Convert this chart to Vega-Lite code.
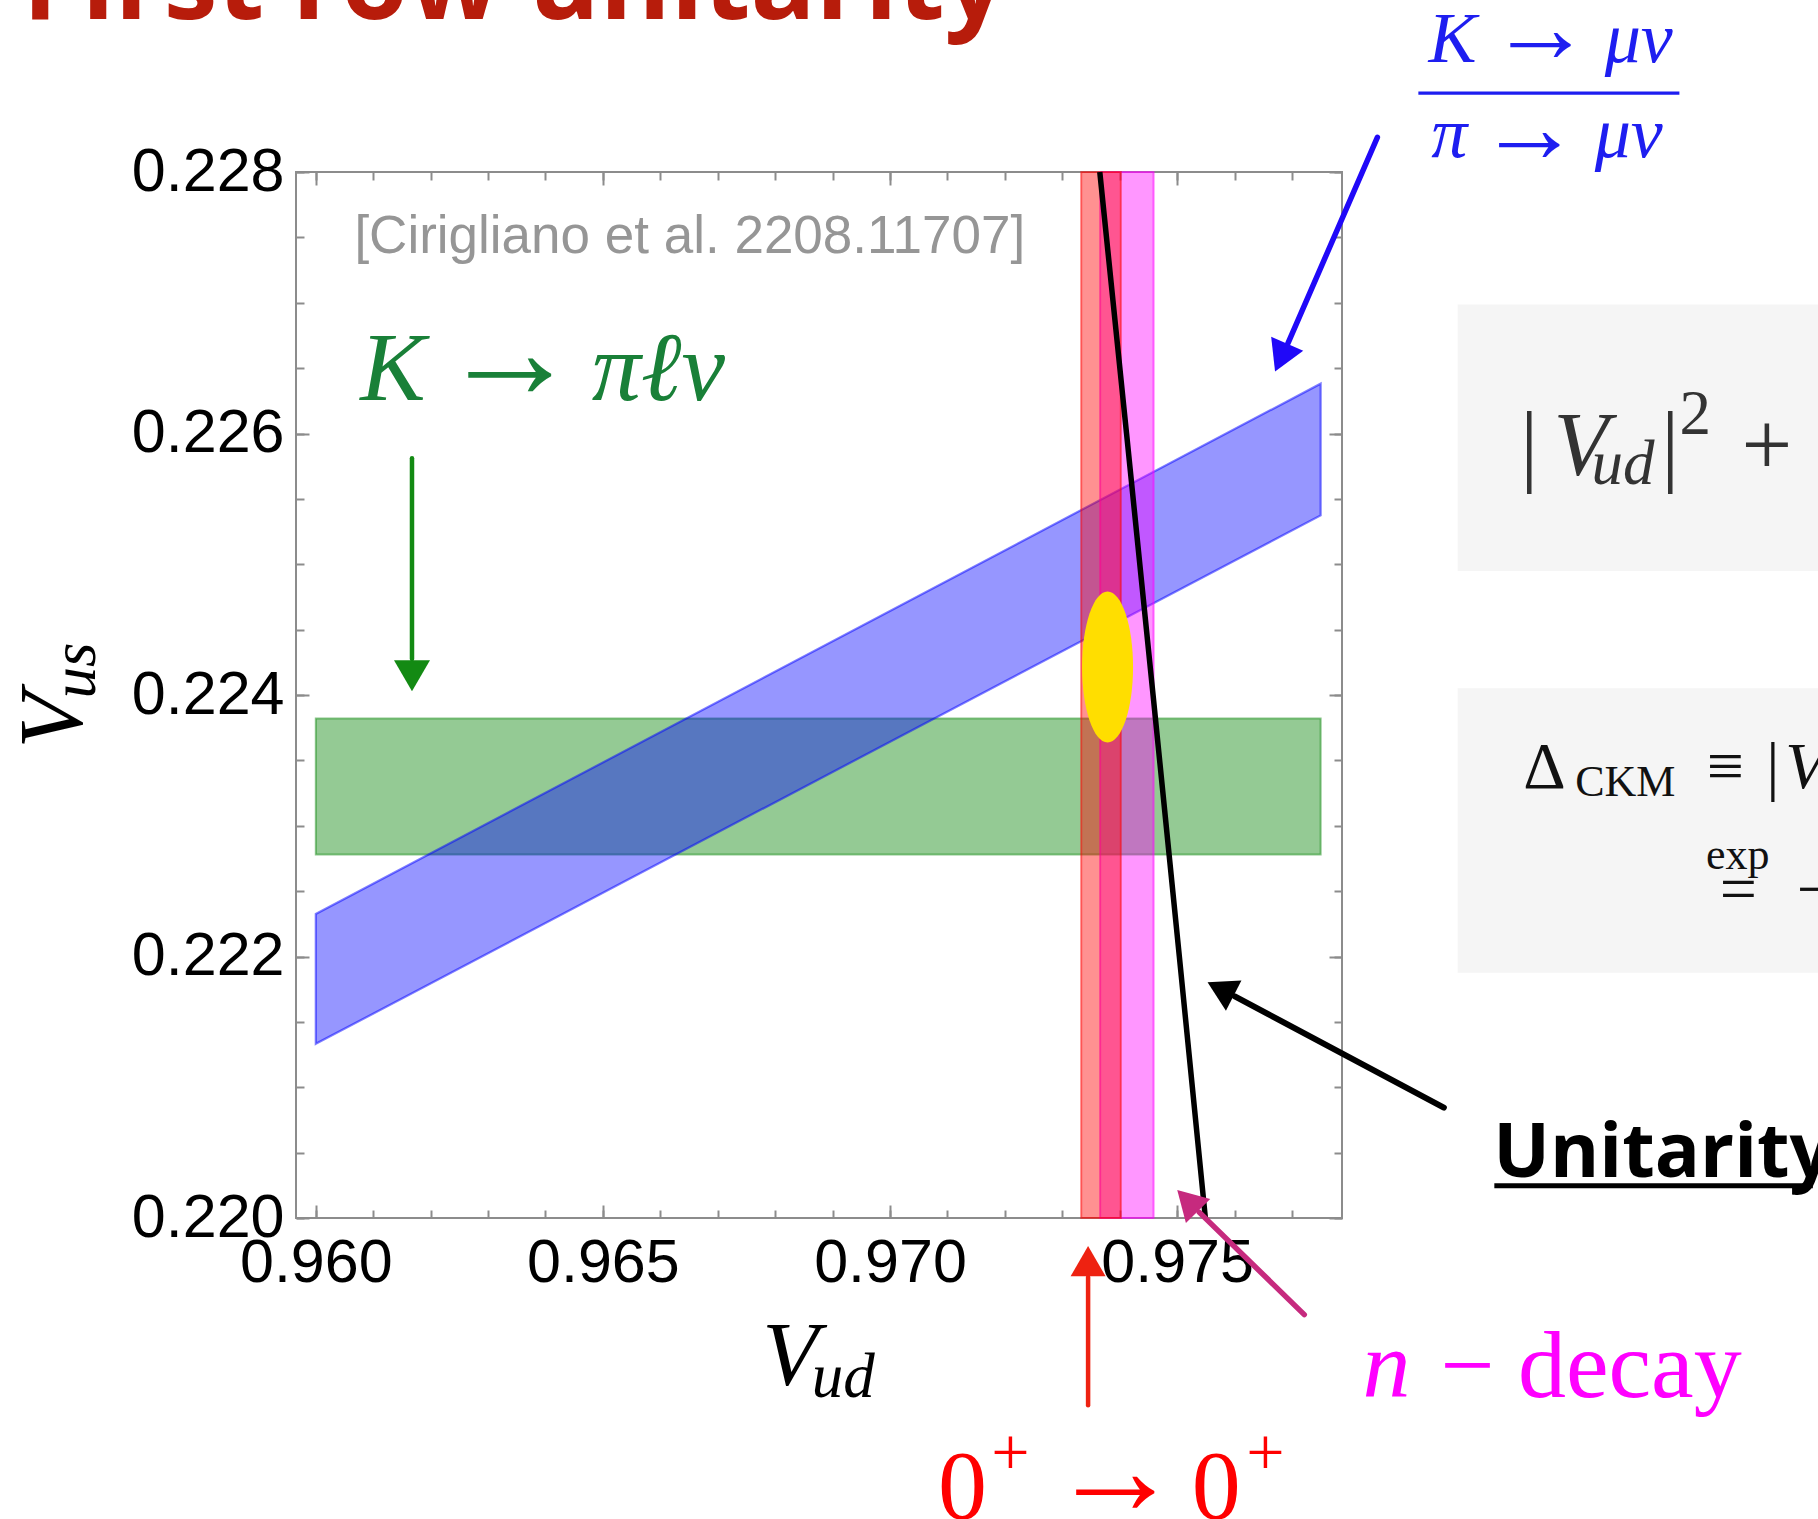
{
  "$schema": "https://vega.github.io/schema/vega-lite/v6.json",
  "width": 1046,
  "height": 1046,
  "autosize": "none",
  "padding": {"left": 296, "top": 172, "right": 476, "bottom": 301},
  "background": "#ffffff",
  "config": {
    "view": {"stroke": "#8c8c8c", "strokeWidth": 2},
    "axis": {"grid": false, "domain": false, "tickColor": "#8c8c8c", "tickWidth": 2, "labelFont": "Liberation Sans", "labelFontSize": 61, "labelColor": "#000000"}
  },
  "resolve": {"axis": {"x": "independent", "y": "independent"}},
  "datasets": {
    "labels": [
      {"group": "title", "text": "First row unitarity", "Vud": 0.95489, "Vus": 0.229172},
      {"group": "cite", "text": "[Cirigliano et al. 2208.11707]", "Vud": 0.960672, "Vus": 0.227377},
      {"group": "kpl_it", "text": "K", "Vud": 0.961343, "Vus": 0.226253},
      {"group": "kpl_it", "text": "πℓν", "Vud": 0.965966, "Vus": 0.226253},
      {"group": "kpl_arrow", "text": "→", "Vud": 0.963372, "Vus": 0.226268},
      {"group": "kmu_it", "text": "K", "Vud": 0.979798, "Vus": 0.228841},
      {"group": "kmu_it", "text": "μν", "Vud": 0.983039, "Vus": 0.228841},
      {"group": "kmu_it", "text": "π", "Vud": 0.979742, "Vus": 0.228114},
      {"group": "kmu_it", "text": "μν", "Vud": 0.982865, "Vus": 0.228114},
      {"group": "kmu_arrow", "text": "→", "Vud": 0.981327, "Vus": 0.228842},
      {"group": "kmu_arrow", "text": "→", "Vud": 0.981135, "Vus": 0.228075},
      {"group": "ndec_it", "text": "n", "Vud": 0.978645, "Vus": 0.21863},
      {"group": "ndec_up", "text": "−", "Vud": 0.980055, "Vus": 0.21863},
      {"group": "ndec_up", "text": "decay", "Vud": 0.982884, "Vus": 0.21863},
      {"group": "sa_up", "text": "0", "Vud": 0.971261, "Vus": 0.217702},
      {"group": "sa_up", "text": "0", "Vud": 0.975684, "Vus": 0.217702},
      {"group": "sa_arrow", "text": "→", "Vud": 0.973925, "Vus": 0.217735},
      {"group": "sa_sup", "text": "+", "Vud": 0.972097, "Vus": 0.218031},
      {"group": "sa_sup", "text": "+", "Vud": 0.976538, "Vus": 0.218031},
      {"group": "xtitle", "text": "V", "Vud": 0.968265, "Vus": 0.21872},
      {"group": "xtitle_sub", "text": "ud", "Vud": 0.969188, "Vus": 0.218628},
      {"group": "ytitle", "text": "V", "Vud": 0.95593, "Vus": 0.223806},
      {"group": "ytitle_sub", "text": "us", "Vud": 0.956162, "Vus": 0.224188},
      {"group": "unitarity", "text": "Unitarity", "Vud": 0.980508, "Vus": 0.220313},
      {"group": "f1_up", "text": "|", "Vud": 0.981135, "Vus": 0.22568},
      {"group": "f1_up", "text": "|", "Vud": 0.983591, "Vus": 0.22568},
      {"group": "f1_up", "text": "+", "Vud": 0.985271, "Vus": 0.22568},
      {"group": "f1_it", "text": "V", "Vud": 0.982032, "Vus": 0.22568},
      {"group": "f1_sub", "text": "ud", "Vud": 0.982764, "Vus": 0.225611},
      {"group": "f1_sup", "text": "2", "Vud": 0.984026, "Vus": 0.225993},
      {"group": "f2_up", "text": "Δ", "Vud": 0.981396, "Vus": 0.223286},
      {"group": "f2_up", "text": "≡", "Vud": 0.984549, "Vus": 0.223286},
      {"group": "f2_up", "text": "|", "Vud": 0.985376, "Vus": 0.223286},
      {"group": "f2_up", "text": "=", "Vud": 0.984775, "Vus": 0.222345},
      {"group": "f2_up", "text": "−", "Vud": 0.986116, "Vus": 0.222345},
      {"group": "f2_it", "text": "V", "Vud": 0.985942, "Vus": 0.223286},
      {"group": "f2_sub", "text": "CKM", "Vud": 0.982807, "Vus": 0.223228},
      {"group": "f2_sub", "text": "exp", "Vud": 0.984766, "Vus": 0.222666}
    ]
  },
  "layer": [
    {
      "data": {"values": [
        {"Vud_lo": 0.979886, "Vud_hi": 0.986377, "Vus_lo": 0.224948, "Vus_hi": 0.226987},
        {"Vud_lo": 0.979886, "Vud_hi": 0.986377, "Vus_lo": 0.221875, "Vus_hi": 0.224052}
      ]},
      "mark": {"type": "rect", "fill": "#f5f5f5"},
      "encoding": {
        "x": {"field": "Vud_lo", "type": "quantitative", "scale": {"domain": [0.959655, 0.977872], "nice": false, "zero": false},
              "axis": {"orient": "bottom", "values": [0.96, 0.965, 0.97, 0.975], "format": ".3f", "ticks": false, "labelPadding": 15, "labelFlush": false, "title": null}},
        "x2": {"field": "Vud_hi"},
        "y": {"field": "Vus_lo", "type": "quantitative", "scale": {"domain": [0.22, 0.228], "nice": false, "zero": false},
              "axis": {"orient": "left", "values": [0.22, 0.222, 0.224, 0.226, 0.228], "format": ".3f", "ticks": false, "labelPadding": 12, "labelFlush": false, "title": null}},
        "y2": {"field": "Vus_hi"}
      }
    },
    {
      "data": {"values": [{"Vud_lo": 0.96, "Vud_hi": 0.9775, "Vus_lo": 0.22278, "Vus_hi": 0.22382}]},
      "mark": {"type": "rect", "fill": "#008000", "fillOpacity": 0.42, "stroke": "#008000", "strokeOpacity": 0.45, "strokeWidth": 2},
      "encoding": {
        "x": {"field": "Vud_lo", "type": "quantitative", "scale": {"domain": [0.959655, 0.977872], "nice": false, "zero": false},
              "axis": {"orient": "bottom", "values": [0.96, 0.965, 0.97, 0.975], "labels": false, "tickSize": -13, "title": null}},
        "x2": {"field": "Vud_hi"},
        "y": {"field": "Vus_lo", "type": "quantitative", "scale": {"domain": [0.22, 0.228], "nice": false, "zero": false},
              "axis": {"orient": "left", "values": [0.22, 0.222, 0.224, 0.226, 0.228], "labels": false, "tickSize": -13, "title": null}},
        "y2": {"field": "Vus_hi"}
      }
    },
    {
      "data": {"values": [
        {"Vud": 0.96, "Vus_lo": 0.221332, "Vus_hi": 0.222325},
        {"Vud": 0.9775, "Vus_lo": 0.225374, "Vus_hi": 0.226381}
      ]},
      "mark": {"type": "area", "fill": "#0000ff", "fillOpacity": 0.41, "stroke": "#0000ff", "strokeOpacity": 0.5, "strokeWidth": 2.2},
      "encoding": {
        "x": {"field": "Vud", "type": "quantitative", "scale": {"domain": [0.959655, 0.977872], "nice": false, "zero": false},
              "axis": {"orient": "bottom", "values": [0.96, 0.961, 0.962, 0.963, 0.964, 0.965, 0.966, 0.967, 0.968, 0.969, 0.97, 0.971, 0.972, 0.973, 0.974, 0.975, 0.976, 0.977], "labels": false, "tickSize": -8, "title": null}},
        "y": {"field": "Vus_lo", "type": "quantitative", "scale": {"domain": [0.22, 0.228], "nice": false, "zero": false},
              "axis": {"orient": "left", "values": [0.22, 0.2205, 0.221, 0.2215, 0.222, 0.2225, 0.223, 0.2235, 0.224, 0.2245, 0.225, 0.2255, 0.226, 0.2265, 0.227, 0.2275, 0.228], "labels": false, "tickSize": -8, "title": null}},
        "y2": {"field": "Vus_hi"}
      }
    },
    {
      "data": {"values": [{"Vud_lo": 0.97366, "Vud_hi": 0.97459, "Vus_lo": 0.22, "Vus_hi": 0.228}]},
      "mark": {"type": "rect", "fill": "#ff00ff", "fillOpacity": 0.41, "stroke": "#ff00ff", "strokeOpacity": 0.55, "strokeWidth": 2},
      "encoding": {
        "x": {"field": "Vud_lo", "type": "quantitative", "scale": {"domain": [0.959655, 0.977872], "nice": false, "zero": false},
              "axis": {"orient": "top", "values": [0.96, 0.965, 0.97, 0.975], "labels": false, "tickSize": -13, "title": null}},
        "x2": {"field": "Vud_hi"},
        "y": {"field": "Vus_lo", "type": "quantitative", "scale": {"domain": [0.22, 0.228], "nice": false, "zero": false},
              "axis": {"orient": "right", "values": [0.22, 0.222, 0.224, 0.226, 0.228], "labels": false, "tickSize": -13, "title": null}},
        "y2": {"field": "Vus_hi"}
      }
    },
    {
      "data": {"values": [{"Vud_lo": 0.97333, "Vud_hi": 0.97402, "Vus_lo": 0.22, "Vus_hi": 0.228}]},
      "mark": {"type": "rect", "fill": "#ff0000", "fillOpacity": 0.43, "stroke": "#ff0000", "strokeOpacity": 0.5, "strokeWidth": 2},
      "encoding": {
        "x": {"field": "Vud_lo", "type": "quantitative", "scale": {"domain": [0.959655, 0.977872], "nice": false, "zero": false},
              "axis": {"orient": "top", "values": [0.96, 0.961, 0.962, 0.963, 0.964, 0.965, 0.966, 0.967, 0.968, 0.969, 0.97, 0.971, 0.972, 0.973, 0.974, 0.975, 0.976, 0.977], "labels": false, "tickSize": -8, "title": null}},
        "x2": {"field": "Vud_hi"},
        "y": {"field": "Vus_lo", "type": "quantitative", "scale": {"domain": [0.22, 0.228], "nice": false, "zero": false},
              "axis": {"orient": "right", "values": [0.22, 0.2205, 0.221, 0.2215, 0.222, 0.2225, 0.223, 0.2235, 0.224, 0.2245, 0.225, 0.2255, 0.226, 0.2265, 0.227, 0.2275, 0.228], "labels": false, "tickSize": -8, "title": null}},
        "y2": {"field": "Vus_hi"}
      }
    },
    {
      "data": {"values": [{"Vud": 0.973789, "Vus": 0.224215}]},
      "mark": {"type": "point", "shape": "M0,-1A0.3377,1,0,1,1,0,1A0.3377,1,0,1,1,0,-1Z", "size": 22801, "filled": true, "fill": "#ffde00", "opacity": 1, "strokeWidth": 0},
      "encoding": {
        "x": {"field": "Vud", "type": "quantitative", "scale": {"domain": [0.959655, 0.977872], "nice": false, "zero": false}, "axis": null},
        "y": {"field": "Vus", "type": "quantitative", "scale": {"domain": [0.22, 0.228], "nice": false, "zero": false}, "axis": null}
      }
    },
    {
      "data": {"values": [
        {"Vud": 0.9736537, "Vus": 0.228},
        {"Vud": 0.9741198, "Vus": 0.226},
        {"Vud": 0.9745816, "Vus": 0.224},
        {"Vud": 0.9750392, "Vus": 0.222},
        {"Vud": 0.9754924, "Vus": 0.22}
      ]},
      "mark": {"type": "line", "color": "#000000", "strokeWidth": 5.5},
      "encoding": {
        "x": {"field": "Vud", "type": "quantitative", "scale": {"domain": [0.959655, 0.977872], "nice": false, "zero": false}, "axis": null},
        "y": {"field": "Vus", "type": "quantitative", "scale": {"domain": [0.22, 0.228], "nice": false, "zero": false}, "axis": null}
      }
    },
    {
      "data": {"values": [{"Vud": 0.961675, "Vus": 0.22581, "Vud_end": 0.961675, "Vus_end": 0.224275}]},
      "mark": {"type": "rule", "color": "#138a13", "strokeWidth": 4.5, "strokeCap": "round"},
      "encoding": {
        "x": {"field": "Vud", "type": "quantitative", "scale": {"domain": [0.959655, 0.977872], "nice": false, "zero": false}, "axis": null},
        "y": {"field": "Vus", "type": "quantitative", "scale": {"domain": [0.22, 0.228], "nice": false, "zero": false}, "axis": null},
        "x2": {"field": "Vud_end"},
        "y2": {"field": "Vus_end"}
      }
    },
    {
      "data": {"values": [{"Vud": 0.961675, "Vus": 0.224147}]},
      "mark": {"type": "point", "shape": "triangle-down", "size": 1296, "filled": true, "color": "#138a13", "opacity": 1},
      "encoding": {
        "x": {"field": "Vud", "type": "quantitative", "scale": {"domain": [0.959655, 0.977872], "nice": false, "zero": false}, "axis": null},
        "y": {"field": "Vus", "type": "quantitative", "scale": {"domain": [0.22, 0.228], "nice": false, "zero": false}, "axis": null}
      }
    },
    {
      "data": {"values": [{"Vud": 0.978488, "Vus": 0.228265, "Vud_end": 0.97693, "Vus_end": 0.226689}]},
      "mark": {"type": "rule", "color": "#2008f8", "strokeWidth": 5.5, "strokeCap": "round"},
      "encoding": {
        "x": {"field": "Vud", "type": "quantitative", "scale": {"domain": [0.959655, 0.977872], "nice": false, "zero": false}, "axis": null},
        "y": {"field": "Vus", "type": "quantitative", "scale": {"domain": [0.22, 0.228], "nice": false, "zero": false}, "axis": null},
        "x2": {"field": "Vud_end"},
        "y2": {"field": "Vus_end"}
      }
    },
    {
      "data": {"values": [{"Vud": 0.976812, "Vus": 0.22658}]},
      "mark": {"type": "point", "shape": "triangle-down", "angle": 23.6, "size": 1225, "filled": true, "color": "#2008f8", "opacity": 1},
      "encoding": {
        "x": {"field": "Vud", "type": "quantitative", "scale": {"domain": [0.959655, 0.977872], "nice": false, "zero": false}, "axis": null},
        "y": {"field": "Vus", "type": "quantitative", "scale": {"domain": [0.22, 0.228], "nice": false, "zero": false}, "axis": null}
      }
    },
    {
      "data": {"values": [{"Vud": 0.979646, "Vus": 0.220844, "Vud_end": 0.976006, "Vus_end": 0.221695}]},
      "mark": {"type": "rule", "color": "#000000", "strokeWidth": 6, "strokeCap": "round"},
      "encoding": {
        "x": {"field": "Vud", "type": "quantitative", "scale": {"domain": [0.959655, 0.977872], "nice": false, "zero": false}, "axis": null},
        "y": {"field": "Vus", "type": "quantitative", "scale": {"domain": [0.22, 0.228], "nice": false, "zero": false}, "axis": null},
        "x2": {"field": "Vud_end"},
        "y2": {"field": "Vus_end"}
      }
    },
    {
      "data": {"values": [{"Vud": 0.975758, "Vus": 0.221752}]},
      "mark": {"type": "point", "shape": "triangle-down", "angle": 117.2, "size": 1150, "filled": true, "color": "#000000", "opacity": 1},
      "encoding": {
        "x": {"field": "Vud", "type": "quantitative", "scale": {"domain": [0.959655, 0.977872], "nice": false, "zero": false}, "axis": null},
        "y": {"field": "Vus", "type": "quantitative", "scale": {"domain": [0.22, 0.228], "nice": false, "zero": false}, "axis": null}
      }
    },
    {
      "data": {"values": [{"Vud": 0.977215, "Vus": 0.219261, "Vud_end": 0.975388, "Vus_end": 0.220043}]},
      "mark": {"type": "rule", "color": "#c62a7e", "strokeWidth": 5.5, "strokeCap": "round"},
      "encoding": {
        "x": {"field": "Vud", "type": "quantitative", "scale": {"domain": [0.959655, 0.977872], "nice": false, "zero": false}, "axis": null},
        "y": {"field": "Vus", "type": "quantitative", "scale": {"domain": [0.22, 0.228], "nice": false, "zero": false}, "axis": null},
        "x2": {"field": "Vud_end"},
        "y2": {"field": "Vus_end"}
      }
    },
    {
      "data": {"values": [{"Vud": 0.975184, "Vus": 0.220134}]},
      "mark": {"type": "point", "shape": "triangle-down", "angle": 135.3, "size": 1170, "filled": true, "color": "#c62a7e", "opacity": 1},
      "encoding": {
        "x": {"field": "Vud", "type": "quantitative", "scale": {"domain": [0.959655, 0.977872], "nice": false, "zero": false}, "axis": null},
        "y": {"field": "Vus", "type": "quantitative", "scale": {"domain": [0.22, 0.228], "nice": false, "zero": false}, "axis": null}
      }
    },
    {
      "data": {"values": [{"Vud": 0.97345, "Vus": 0.218567, "Vud_end": 0.97345, "Vus_end": 0.219548}]},
      "mark": {"type": "rule", "color": "#ee2211", "strokeWidth": 4.5, "strokeCap": "round"},
      "encoding": {
        "x": {"field": "Vud", "type": "quantitative", "scale": {"domain": [0.959655, 0.977872], "nice": false, "zero": false}, "axis": null},
        "y": {"field": "Vus", "type": "quantitative", "scale": {"domain": [0.22, 0.228], "nice": false, "zero": false}, "axis": null},
        "x2": {"field": "Vud_end"},
        "y2": {"field": "Vus_end"}
      }
    },
    {
      "data": {"values": [{"Vud": 0.97345, "Vus": 0.21967}]},
      "mark": {"type": "point", "shape": "triangle-up", "size": 1225, "filled": true, "color": "#ee2211", "opacity": 1},
      "encoding": {
        "x": {"field": "Vud", "type": "quantitative", "scale": {"domain": [0.959655, 0.977872], "nice": false, "zero": false}, "axis": null},
        "y": {"field": "Vus", "type": "quantitative", "scale": {"domain": [0.22, 0.228], "nice": false, "zero": false}, "axis": null}
      }
    },
    {
      "data": {"values": [{"Vud": 0.979202, "Vus": 0.228603, "Vud_end": 0.983748, "Vus_end": 0.228603}]},
      "mark": {"type": "rule", "color": "#1e1ef0", "strokeWidth": 3.3},
      "encoding": {
        "x": {"field": "Vud", "type": "quantitative", "scale": {"domain": [0.959655, 0.977872], "nice": false, "zero": false}, "axis": null},
        "y": {"field": "Vus", "type": "quantitative", "scale": {"domain": [0.22, 0.228], "nice": false, "zero": false}, "axis": null},
        "x2": {"field": "Vud_end"},
        "y2": {"field": "Vus_end"}
      }
    },
    {
      "data": {"values": [{"Vud": 0.980525, "Vus": 0.220246, "Vud_end": 0.986072, "Vus_end": 0.220246}]},
      "mark": {"type": "rule", "color": "#000000", "strokeWidth": 5},
      "encoding": {
        "x": {"field": "Vud", "type": "quantitative", "scale": {"domain": [0.959655, 0.977872], "nice": false, "zero": false}, "axis": null},
        "y": {"field": "Vus", "type": "quantitative", "scale": {"domain": [0.22, 0.228], "nice": false, "zero": false}, "axis": null},
        "x2": {"field": "Vud_end"},
        "y2": {"field": "Vus_end"}
      }
    },
    {
      "data": {"name": "labels"},
      "transform": [{"filter": "datum.group === 'title'"}],
      "mark": {"type": "text", "font": "Open Sans", "fontWeight": "bold", "fontSize": 108, "color": "#b71c0b", "align": "left", "baseline": "alphabetic"},
      "encoding": {
        "x": {"field": "Vud", "type": "quantitative", "scale": {"domain": [0.959655, 0.977872], "nice": false, "zero": false}, "axis": null},
        "y": {"field": "Vus", "type": "quantitative", "scale": {"domain": [0.22, 0.228], "nice": false, "zero": false}, "axis": null},
        "text": {"field": "text"}
      }
    },
    {
      "data": {"name": "labels"},
      "transform": [{"filter": "datum.group === 'cite'"}],
      "mark": {"type": "text", "font": "Liberation Sans", "fontSize": 53, "color": "#969696", "align": "left", "baseline": "alphabetic"},
      "encoding": {
        "x": {"field": "Vud", "type": "quantitative", "scale": {"domain": [0.959655, 0.977872], "nice": false, "zero": false}, "axis": null},
        "y": {"field": "Vus", "type": "quantitative", "scale": {"domain": [0.22, 0.228], "nice": false, "zero": false}, "axis": null},
        "text": {"field": "text"}
      }
    },
    {
      "data": {"name": "labels"},
      "transform": [{"filter": "datum.group === 'kpl_it'"}],
      "mark": {"type": "text", "font": "Liberation Serif", "fontStyle": "italic", "fontSize": 98, "color": "#198038", "align": "center", "baseline": "alphabetic"},
      "encoding": {
        "x": {"field": "Vud", "type": "quantitative", "scale": {"domain": [0.959655, 0.977872], "nice": false, "zero": false}, "axis": null},
        "y": {"field": "Vus", "type": "quantitative", "scale": {"domain": [0.22, 0.228], "nice": false, "zero": false}, "axis": null},
        "text": {"field": "text"}
      }
    },
    {
      "data": {"name": "labels"},
      "transform": [{"filter": "datum.group === 'kpl_arrow'"}],
      "mark": {"type": "text", "font": "Liberation Serif", "fontSize": 140, "color": "#198038", "align": "center", "baseline": "alphabetic"},
      "encoding": {
        "x": {"field": "Vud", "type": "quantitative", "scale": {"domain": [0.959655, 0.977872], "nice": false, "zero": false}, "axis": null},
        "y": {"field": "Vus", "type": "quantitative", "scale": {"domain": [0.22, 0.228], "nice": false, "zero": false}, "axis": null},
        "text": {"field": "text"}
      }
    },
    {
      "data": {"name": "labels"},
      "transform": [{"filter": "datum.group === 'kmu_it'"}],
      "mark": {"type": "text", "font": "Liberation Serif", "fontStyle": "italic", "fontSize": 72, "color": "#1e1ef0", "align": "center", "baseline": "alphabetic"},
      "encoding": {
        "x": {"field": "Vud", "type": "quantitative", "scale": {"domain": [0.959655, 0.977872], "nice": false, "zero": false}, "axis": null},
        "y": {"field": "Vus", "type": "quantitative", "scale": {"domain": [0.22, 0.228], "nice": false, "zero": false}, "axis": null},
        "text": {"field": "text"}
      }
    },
    {
      "data": {"name": "labels"},
      "transform": [{"filter": "datum.group === 'kmu_arrow'"}],
      "mark": {"type": "text", "font": "Liberation Serif", "fontSize": 102, "color": "#1e1ef0", "align": "center", "baseline": "alphabetic"},
      "encoding": {
        "x": {"field": "Vud", "type": "quantitative", "scale": {"domain": [0.959655, 0.977872], "nice": false, "zero": false}, "axis": null},
        "y": {"field": "Vus", "type": "quantitative", "scale": {"domain": [0.22, 0.228], "nice": false, "zero": false}, "axis": null},
        "text": {"field": "text"}
      }
    },
    {
      "data": {"name": "labels"},
      "transform": [{"filter": "datum.group === 'ndec_it'"}],
      "mark": {"type": "text", "font": "Liberation Serif", "fontStyle": "italic", "fontSize": 96, "color": "#ff00ff", "align": "center", "baseline": "alphabetic"},
      "encoding": {
        "x": {"field": "Vud", "type": "quantitative", "scale": {"domain": [0.959655, 0.977872], "nice": false, "zero": false}, "axis": null},
        "y": {"field": "Vus", "type": "quantitative", "scale": {"domain": [0.22, 0.228], "nice": false, "zero": false}, "axis": null},
        "text": {"field": "text"}
      }
    },
    {
      "data": {"name": "labels"},
      "transform": [{"filter": "datum.group === 'ndec_up'"}],
      "mark": {"type": "text", "font": "Liberation Serif", "fontSize": 96, "color": "#ff00ff", "align": "center", "baseline": "alphabetic"},
      "encoding": {
        "x": {"field": "Vud", "type": "quantitative", "scale": {"domain": [0.959655, 0.977872], "nice": false, "zero": false}, "axis": null},
        "y": {"field": "Vus", "type": "quantitative", "scale": {"domain": [0.22, 0.228], "nice": false, "zero": false}, "axis": null},
        "text": {"field": "text"}
      }
    },
    {
      "data": {"name": "labels"},
      "transform": [{"filter": "datum.group === 'sa_up'"}],
      "mark": {"type": "text", "font": "Liberation Serif", "fontSize": 98, "color": "#ff0000", "align": "center", "baseline": "alphabetic"},
      "encoding": {
        "x": {"field": "Vud", "type": "quantitative", "scale": {"domain": [0.959655, 0.977872], "nice": false, "zero": false}, "axis": null},
        "y": {"field": "Vus", "type": "quantitative", "scale": {"domain": [0.22, 0.228], "nice": false, "zero": false}, "axis": null},
        "text": {"field": "text"}
      }
    },
    {
      "data": {"name": "labels"},
      "transform": [{"filter": "datum.group === 'sa_arrow'"}],
      "mark": {"type": "text", "font": "Liberation Serif", "fontSize": 132, "color": "#ff0000", "align": "center", "baseline": "alphabetic"},
      "encoding": {
        "x": {"field": "Vud", "type": "quantitative", "scale": {"domain": [0.959655, 0.977872], "nice": false, "zero": false}, "axis": null},
        "y": {"field": "Vus", "type": "quantitative", "scale": {"domain": [0.22, 0.228], "nice": false, "zero": false}, "axis": null},
        "text": {"field": "text"}
      }
    },
    {
      "data": {"name": "labels"},
      "transform": [{"filter": "datum.group === 'sa_sup'"}],
      "mark": {"type": "text", "font": "Liberation Serif", "fontSize": 68, "color": "#ff0000", "align": "center", "baseline": "alphabetic"},
      "encoding": {
        "x": {"field": "Vud", "type": "quantitative", "scale": {"domain": [0.959655, 0.977872], "nice": false, "zero": false}, "axis": null},
        "y": {"field": "Vus", "type": "quantitative", "scale": {"domain": [0.22, 0.228], "nice": false, "zero": false}, "axis": null},
        "text": {"field": "text"}
      }
    },
    {
      "data": {"name": "labels"},
      "transform": [{"filter": "datum.group === 'xtitle'"}],
      "mark": {"type": "text", "font": "Liberation Serif", "fontStyle": "italic", "fontSize": 92, "color": "#000000", "align": "center", "baseline": "alphabetic"},
      "encoding": {
        "x": {"field": "Vud", "type": "quantitative", "scale": {"domain": [0.959655, 0.977872], "nice": false, "zero": false}, "axis": null},
        "y": {"field": "Vus", "type": "quantitative", "scale": {"domain": [0.22, 0.228], "nice": false, "zero": false}, "axis": null},
        "text": {"field": "text"}
      }
    },
    {
      "data": {"name": "labels"},
      "transform": [{"filter": "datum.group === 'xtitle_sub'"}],
      "mark": {"type": "text", "font": "Liberation Serif", "fontStyle": "italic", "fontSize": 63, "color": "#000000", "align": "center", "baseline": "alphabetic"},
      "encoding": {
        "x": {"field": "Vud", "type": "quantitative", "scale": {"domain": [0.959655, 0.977872], "nice": false, "zero": false}, "axis": null},
        "y": {"field": "Vus", "type": "quantitative", "scale": {"domain": [0.22, 0.228], "nice": false, "zero": false}, "axis": null},
        "text": {"field": "text"}
      }
    },
    {
      "data": {"name": "labels"},
      "transform": [{"filter": "datum.group === 'ytitle'"}],
      "mark": {"type": "text", "font": "Liberation Serif", "fontStyle": "italic", "fontSize": 92, "color": "#000000", "align": "center", "baseline": "alphabetic", "angle": 270},
      "encoding": {
        "x": {"field": "Vud", "type": "quantitative", "scale": {"domain": [0.959655, 0.977872], "nice": false, "zero": false}, "axis": null},
        "y": {"field": "Vus", "type": "quantitative", "scale": {"domain": [0.22, 0.228], "nice": false, "zero": false}, "axis": null},
        "text": {"field": "text"}
      }
    },
    {
      "data": {"name": "labels"},
      "transform": [{"filter": "datum.group === 'ytitle_sub'"}],
      "mark": {"type": "text", "font": "Liberation Serif", "fontStyle": "italic", "fontSize": 63, "color": "#000000", "align": "center", "baseline": "alphabetic", "angle": 270},
      "encoding": {
        "x": {"field": "Vud", "type": "quantitative", "scale": {"domain": [0.959655, 0.977872], "nice": false, "zero": false}, "axis": null},
        "y": {"field": "Vus", "type": "quantitative", "scale": {"domain": [0.22, 0.228], "nice": false, "zero": false}, "axis": null},
        "text": {"field": "text"}
      }
    },
    {
      "data": {"name": "labels"},
      "transform": [{"filter": "datum.group === 'unitarity'"}],
      "mark": {"type": "text", "font": "Open Sans", "fontWeight": "bold", "fontSize": 75, "color": "#000000", "align": "left", "baseline": "alphabetic"},
      "encoding": {
        "x": {"field": "Vud", "type": "quantitative", "scale": {"domain": [0.959655, 0.977872], "nice": false, "zero": false}, "axis": null},
        "y": {"field": "Vus", "type": "quantitative", "scale": {"domain": [0.22, 0.228], "nice": false, "zero": false}, "axis": null},
        "text": {"field": "text"}
      }
    },
    {
      "data": {"name": "labels"},
      "transform": [{"filter": "datum.group === 'f1_up'"}],
      "mark": {"type": "text", "font": "Liberation Serif", "fontSize": 90, "color": "#333333", "align": "center", "baseline": "alphabetic"},
      "encoding": {
        "x": {"field": "Vud", "type": "quantitative", "scale": {"domain": [0.959655, 0.977872], "nice": false, "zero": false}, "axis": null},
        "y": {"field": "Vus", "type": "quantitative", "scale": {"domain": [0.22, 0.228], "nice": false, "zero": false}, "axis": null},
        "text": {"field": "text"}
      }
    },
    {
      "data": {"name": "labels"},
      "transform": [{"filter": "datum.group === 'f1_it'"}],
      "mark": {"type": "text", "font": "Liberation Serif", "fontStyle": "italic", "fontSize": 90, "color": "#333333", "align": "center", "baseline": "alphabetic"},
      "encoding": {
        "x": {"field": "Vud", "type": "quantitative", "scale": {"domain": [0.959655, 0.977872], "nice": false, "zero": false}, "axis": null},
        "y": {"field": "Vus", "type": "quantitative", "scale": {"domain": [0.22, 0.228], "nice": false, "zero": false}, "axis": null},
        "text": {"field": "text"}
      }
    },
    {
      "data": {"name": "labels"},
      "transform": [{"filter": "datum.group === 'f1_sub'"}],
      "mark": {"type": "text", "font": "Liberation Serif", "fontStyle": "italic", "fontSize": 63, "color": "#333333", "align": "center", "baseline": "alphabetic"},
      "encoding": {
        "x": {"field": "Vud", "type": "quantitative", "scale": {"domain": [0.959655, 0.977872], "nice": false, "zero": false}, "axis": null},
        "y": {"field": "Vus", "type": "quantitative", "scale": {"domain": [0.22, 0.228], "nice": false, "zero": false}, "axis": null},
        "text": {"field": "text"}
      }
    },
    {
      "data": {"name": "labels"},
      "transform": [{"filter": "datum.group === 'f1_sup'"}],
      "mark": {"type": "text", "font": "Liberation Serif", "fontSize": 63, "color": "#333333", "align": "center", "baseline": "alphabetic"},
      "encoding": {
        "x": {"field": "Vud", "type": "quantitative", "scale": {"domain": [0.959655, 0.977872], "nice": false, "zero": false}, "axis": null},
        "y": {"field": "Vus", "type": "quantitative", "scale": {"domain": [0.22, 0.228], "nice": false, "zero": false}, "axis": null},
        "text": {"field": "text"}
      }
    },
    {
      "data": {"name": "labels"},
      "transform": [{"filter": "datum.group === 'f2_up'"}],
      "mark": {"type": "text", "font": "Liberation Serif", "fontSize": 66, "color": "#111111", "align": "center", "baseline": "alphabetic"},
      "encoding": {
        "x": {"field": "Vud", "type": "quantitative", "scale": {"domain": [0.959655, 0.977872], "nice": false, "zero": false}, "axis": null},
        "y": {"field": "Vus", "type": "quantitative", "scale": {"domain": [0.22, 0.228], "nice": false, "zero": false}, "axis": null},
        "text": {"field": "text"}
      }
    },
    {
      "data": {"name": "labels"},
      "transform": [{"filter": "datum.group === 'f2_it'"}],
      "mark": {"type": "text", "font": "Liberation Serif", "fontStyle": "italic", "fontSize": 66, "color": "#111111", "align": "center", "baseline": "alphabetic"},
      "encoding": {
        "x": {"field": "Vud", "type": "quantitative", "scale": {"domain": [0.959655, 0.977872], "nice": false, "zero": false}, "axis": null},
        "y": {"field": "Vus", "type": "quantitative", "scale": {"domain": [0.22, 0.228], "nice": false, "zero": false}, "axis": null},
        "text": {"field": "text"}
      }
    },
    {
      "data": {"name": "labels"},
      "transform": [{"filter": "datum.group === 'f2_sub'"}],
      "mark": {"type": "text", "font": "Liberation Serif", "fontSize": 44, "color": "#111111", "align": "center", "baseline": "alphabetic"},
      "encoding": {
        "x": {"field": "Vud", "type": "quantitative", "scale": {"domain": [0.959655, 0.977872], "nice": false, "zero": false}, "axis": null},
        "y": {"field": "Vus", "type": "quantitative", "scale": {"domain": [0.22, 0.228], "nice": false, "zero": false}, "axis": null},
        "text": {"field": "text"}
      }
    }
  ]
}
